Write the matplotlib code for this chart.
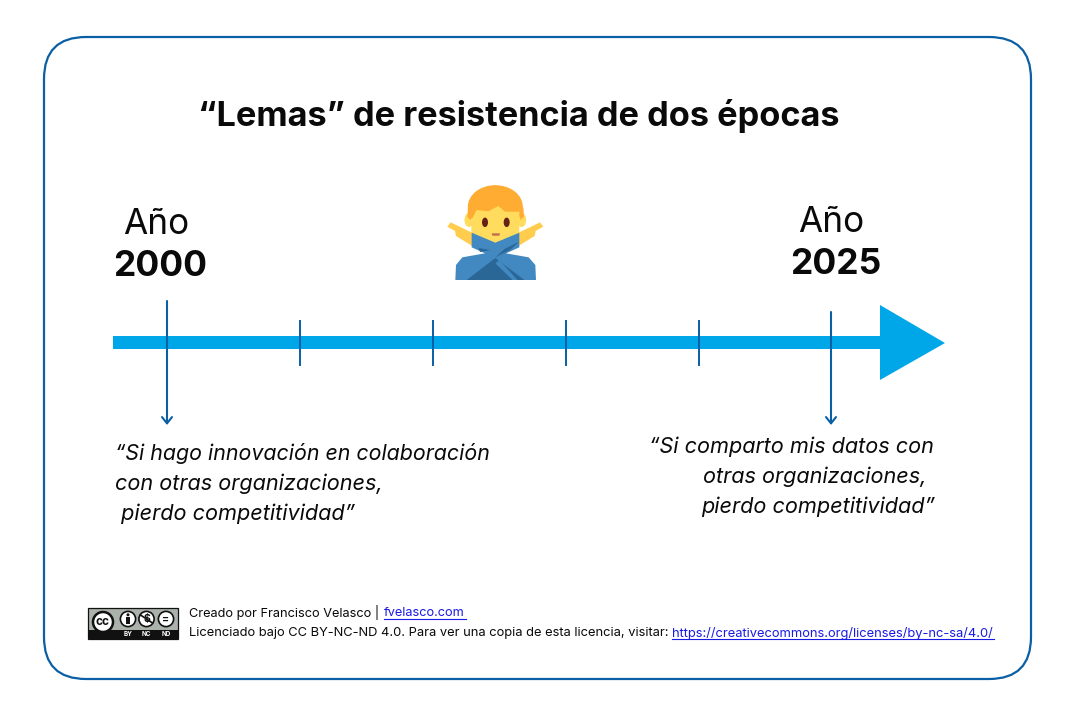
import matplotlib
matplotlib.use("Agg")
import matplotlib.pyplot as plt
from matplotlib.patches import FancyBboxPatch, Polygon, Ellipse, Circle, Rectangle

plt.rcParams['font.family'] = ['Inter', 'DejaVu Sans']

# datos
titulo = "“Lemas” de resistencia de dos épocas"
anios = ["2000", "2025"]
marcas_x = [300, 433, 566, 699]
flechas_x = [167, 831]
lema_2000 = ["“Si hago innovación en colaboración", "con otras organizaciones,", " pierdo competitividad”"]
lema_2025 = ["“Si comparto mis datos con", "otras organizaciones,", "pierdo competitividad”"]
lema_2000_x = [115, 115, 115]
lema_2025_x = [934, 926, 935]
creditos = "Creado por Francisco Velasco |"
sitio = "fvelasco.com"
licencia = "Licenciado bajo CC BY-NC-ND 4.0. Para ver una copia de esta licencia, visitar:"
url = "https://creativecommons.org/licenses/by-nc-sa/4.0/"

AZUL = "#00a7e8"
OSCURO = "#0b5fa5"
NEGRO = "#0a0a0a"

fig = plt.figure(figsize=(10.75, 7.16), dpi=100)
ax = fig.add_axes([0, 0, 1, 1])
ax.set_xlim(0, 1075)
ax.set_ylim(716, 0)
ax.axis("off")

# marco
ax.add_patch(FancyBboxPatch((44, 37), 987, 642, boxstyle="round,pad=0,rounding_size=42",
                            fc="white", ec=OSCURO, lw=1.6))

ax.text(519, 116, titulo, ha="center", va="center", fontsize=24.7, fontweight="bold", color=NEGRO)

# linea de tiempo
ax.add_patch(Rectangle((113, 336), 770, 13, fc=AZUL, ec="none"))
ax.add_patch(Polygon([(880, 305), (945, 343), (880, 380)], fc=AZUL, ec="none"))
for x in marcas_x:
    ax.plot([x, x], [321, 365], color=OSCURO, lw=1.4)

ax.annotate("", xy=(flechas_x[0], 425), xytext=(flechas_x[0], 301),
            arrowprops=dict(arrowstyle="->,head_length=0.45,head_width=0.36", color=OSCURO, lw=1.5,
                            shrinkA=0, shrinkB=0))
ax.annotate("", xy=(flechas_x[1], 425), xytext=(flechas_x[1], 312),
            arrowprops=dict(arrowstyle="->,head_length=0.45,head_width=0.36", color=OSCURO, lw=1.5,
                            shrinkA=0, shrinkB=0))

ax.text(156.5, 225, "Año", ha="center", va="center", fontsize=25.3, color=NEGRO)
ax.text(160.5, 267, anios[0], ha="center", va="center", fontsize=25.5, fontweight="bold", color=NEGRO)
ax.text(831.5, 222.5, "Año", ha="center", va="center", fontsize=25.3, color=NEGRO)
ax.text(836, 265, anios[1], ha="center", va="center", fontsize=25.5, fontweight="bold", color=NEGRO)

for t, x, y, s in zip(lema_2000, lema_2000_x, [454, 484, 514], [15.4, 15.6, 15.6]):
    ax.text(x, y, t, ha="left", va="center", fontsize=s, style="italic", color=NEGRO)
for t, x, y in zip(lema_2025, lema_2025_x, [447, 477, 507]):
    ax.text(x, y, t, ha="right", va="center", fontsize=15.6, style="italic", color=NEGRO)

# emoji dibujado (coordenadas del recorte)
def z(p):
    return [(430 + a / 3, 170 + b / 3) for a, b in p]

def poly(p, c):
    ax.add_patch(Polygon(z(p), fc=c, ec="none"))

def espejo(p):
    return [(392 - a, b) for a, b in p]

brazo = [(62, 157), (130, 190), (130, 230), (78, 198), (75, 183), (52, 170)]
poly(brazo, "#ffcc4d")
poly(espejo(brazo), "#ffcc4d")
ax.add_patch(Ellipse((430 + 117 / 3, 170 + 150 / 3), 9, 14, fc="#ffdc5d", ec="none"))
ax.add_patch(Ellipse((430 + 275 / 3, 170 + 150 / 3), 9, 14, fc="#ffdc5d", ec="none"))
ax.add_patch(Ellipse((430 + 196 / 3, 170 + 110 / 3), 55, 43, fc="#ffac33", ec="none"))
poly([(114, 112), (112, 140), (121, 150), (140, 120), (175, 124), (205, 108), (225, 125), (268, 125),
      (271, 150), (282, 140), (280, 112)], "#ffac33")
poly([(124, 150), (140, 120), (175, 124), (205, 108), (225, 125), (268, 125), (268, 190), (196, 220),
      (124, 190)], "#ffdc5d")
ax.add_patch(Ellipse((430 + 165 / 3, 170 + 157 / 3), 6, 9.5, fc="#662113", ec="none"))
ax.add_patch(Ellipse((430 + 230 / 3, 170 + 157 / 3), 6, 9.5, fc="#662113", ec="none"))
poly([(185, 190), (210, 190), (208, 197), (187, 197)], "#c1694f")
poly([(125, 188), (196, 218), (268, 188), (268, 232), (228, 250), (296, 262), (316, 285), (318, 330),
      (76, 330), (78, 285), (97, 262), (165, 250), (125, 232)], "#4289c1")
poly([(110, 330), (196, 264), (283, 330)], "#2a6797")
poly([(146, 234), (180, 240), (150, 246)], "#2a6797")
poly([(268, 215), (225, 236), (196, 262), (240, 240)], "#2a6797")
poly([(196, 280), (208, 270), (262, 330), (248, 330)], "#4289c1")

# insignia cc
ax.add_patch(Rectangle((88, 608), 90, 30.5, fc="#aab2ab", ec="#111111", lw=0.9))
ax.add_patch(Polygon([(112, 630), (178, 630), (178, 639), (88, 639), (88, 630)], fc="#111111", ec="none"))
ax.add_patch(Circle((103, 622), 10, fc="white", ec="#111111", lw=1.8))
ax.text(103, 622, "cc", ha="center", va="center", fontsize=8.5, fontweight="bold", color="#111111")
for cx, txt, sim in zip([128, 146.5, 166], ["BY", "NC", "ND"], ["", "$", "="]):
    ax.add_patch(Circle((cx, 619), 7.6, fc="white", ec="#111111", lw=1.2))
    ax.text(cx, 619, sim, ha="center", va="center", fontsize=7.5, fontweight="bold", color="#111111")
    ax.text(cx, 634.5, txt, ha="center", va="center", fontsize=4.6, fontweight="bold", color="white")
ax.add_patch(Circle((128, 614.8), 1.5, fc="#111111", ec="none"))
ax.add_patch(Rectangle((125.8, 616.7), 4.4, 7, fc="#111111", ec="none"))
ax.plot([140.5, 152.5], [615, 623], color="#111111", lw=1.2)

# creditos
ax.text(189, 612.5, creditos, ha="left", va="center", fontsize=9.2, color=NEGRO)
ax.text(384, 612.5, sitio, ha="left", va="center", fontsize=9.2, color="#1a1ae6")
ax.plot([384, 466], [619, 619], color="#1a1ae6", lw=0.8)
ax.text(189, 633, licencia, ha="left", va="center", fontsize=9.3, color=NEGRO)
ax.text(672, 633, url, ha="left", va="center", fontsize=9.3, color="#1a1ae6")
ax.plot([672, 994], [639, 639], color="#1a1ae6", lw=0.8)

fig.savefig("out.png", dpi=100, facecolor="white")
